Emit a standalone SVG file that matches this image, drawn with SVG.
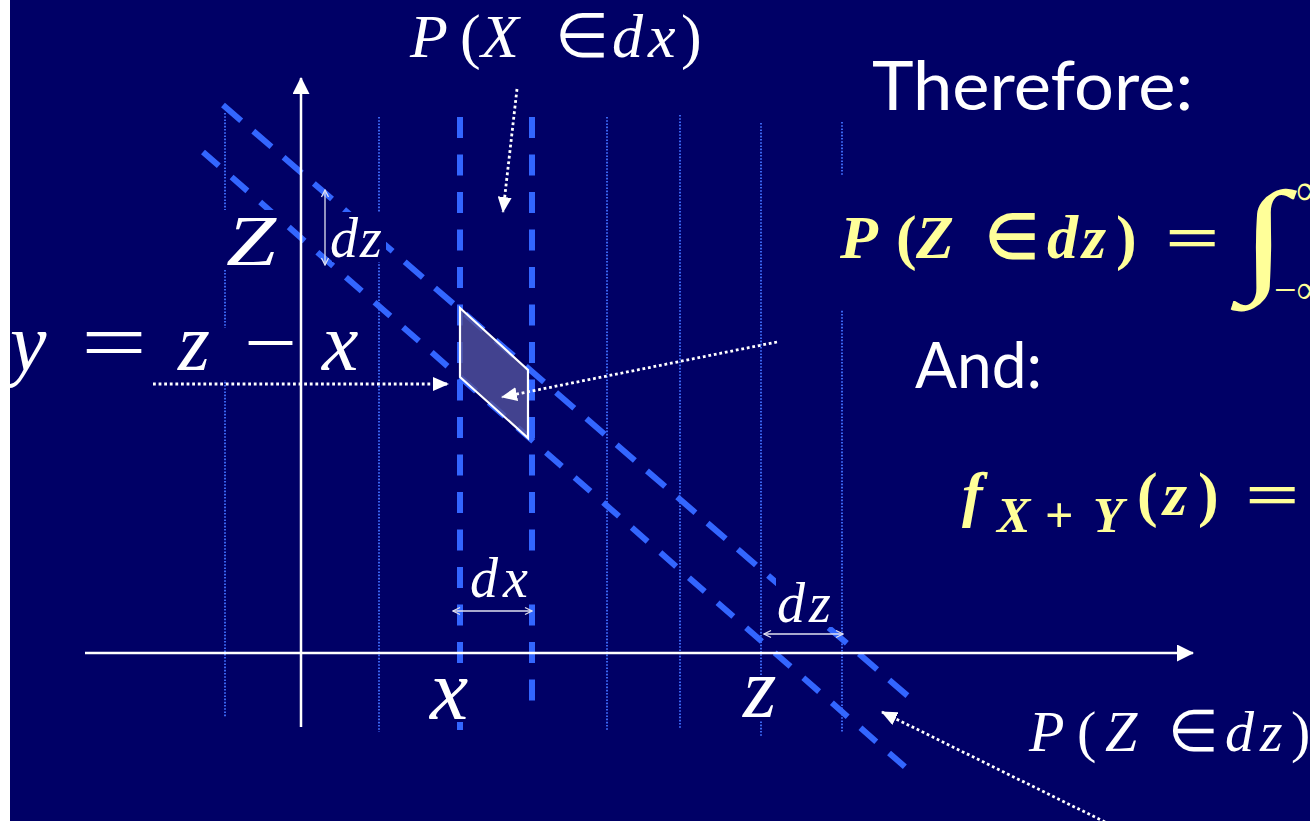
<svg xmlns="http://www.w3.org/2000/svg" width="1310" height="821" viewBox="0 0 1310 821">
<defs>
<marker id="ax" markerUnits="userSpaceOnUse" markerWidth="17" markerHeight="17" viewBox="0 0 17 17" refX="16" refY="8.5" orient="auto"><path d="M0,0 L17,8.5 L0,17 Z" fill="#fff"/></marker>
<marker id="dh" markerUnits="userSpaceOnUse" markerWidth="16" markerHeight="14" viewBox="0 0 16 14" refX="15" refY="7" orient="auto"><path d="M0,0 L16,7 L0,14 Z" fill="#fff"/></marker>
<marker id="oh" markerUnits="userSpaceOnUse" markerWidth="10" markerHeight="10" viewBox="0 0 10 10" refX="9" refY="5" orient="auto-start-reverse"><path d="M2,1.5 L9,5 L2,8.5" fill="none" stroke="#e0e0f0" stroke-width="1.3"/></marker>
</defs>
<rect width="1310" height="821" fill="#fff"/>
<rect x="10" y="0" width="1300" height="821" fill="#000066"/>
<g id="grid" stroke="#4070ff" stroke-width="1.8" stroke-dasharray="1.6 1.6" fill="none">
<line x1="225" y1="113" x2="225" y2="717"/>
<line x1="379" y1="117" x2="379" y2="732"/>
<line x1="607" y1="117" x2="607" y2="730"/>
<line x1="680" y1="115" x2="680" y2="729"/>
<line x1="761" y1="123" x2="761" y2="737"/>
<line x1="842" y1="122" x2="842" y2="732"/>
</g>
<g id="strips" stroke="#3366ff" stroke-width="6" fill="none">
<line stroke-dasharray="21 16.5" x1="460" y1="117" x2="460" y2="730"/>
<line stroke-dasharray="21 16.5" x1="532" y1="117" x2="532" y2="717"/>
<line stroke-dasharray="24 16" x1="223" y1="105" x2="909" y2="697"/>
<line stroke-dasharray="21 17" x1="203" y1="152" x2="912" y2="773"/>
</g>
<g id="region">
<polygon points="460,308 528,370 528,438 460,377" fill="#505098" fill-opacity="0.82" stroke="#fff" stroke-width="2.2" stroke-linejoin="miter"/>
</g>
<g id="labels" fill="#fff" font-family="Liberation Serif, serif">
<g id="label-pxdx"><text font-size="62" y="57"><tspan font-style="italic" x="410">P</tspan><tspan x="460">(</tspan><tspan font-style="italic" x="481">X</tspan> <tspan x="555">∈</tspan> <tspan font-style="italic" x="612">d</tspan><tspan font-style="italic" x="648">x</tspan><tspan x="681">)</tspan></text></g>
<g id="label-Z"><rect fill="#000066" x="222" y="210" width="63" height="60"/><text font-style="italic" font-size="72" x="226" y="265" textLength="50" lengthAdjust="spacingAndGlyphs">Z</text></g>
<g id="label-dz-v"><rect fill="#000066" x="332" y="212" width="54" height="50"/><text font-style="italic" font-size="56" y="257"><tspan x="330">d</tspan><tspan x="360">z</tspan></text></g>
<g id="label-line"><rect fill="#000066" x="10" y="328" width="362" height="52"/><text font-size="82" y="370"><tspan font-style="italic" x="10">y</tspan> <tspan x="81" textLength="66" lengthAdjust="spacingAndGlyphs">=</tspan> <tspan font-style="italic" x="178">z</tspan> <tspan x="244" textLength="53" lengthAdjust="spacingAndGlyphs">−</tspan> <tspan font-style="italic" x="322">x</tspan></text></g>
<g id="label-dx"><rect fill="#000066" x="470" y="556" width="66" height="46"/><text font-style="italic" font-size="56" y="597"><tspan x="470">d</tspan><tspan x="503">x</tspan></text></g>
<g id="label-dz-h"><rect fill="#000066" x="776" y="578" width="64" height="49"/><text font-style="italic" font-size="56" y="622"><tspan x="777">d</tspan><tspan x="809">z</tspan></text></g>
<g id="label-x"><rect fill="#000066" x="430" y="678" width="48" height="44"/><text font-style="italic" font-size="86" x="430" y="719">x</text></g>
<g id="label-z"><rect fill="#000066" x="743" y="675" width="44" height="45"/><text font-style="italic" font-size="86" x="743" y="717">z</text></g>
<g id="label-pzdz"><text font-size="58" y="751"><tspan font-style="italic" x="1029">P</tspan><tspan x="1077">(</tspan><tspan font-style="italic" x="1105">Z</tspan> <tspan x="1168">∈</tspan> <tspan font-style="italic" x="1225">d</tspan><tspan font-style="italic" x="1260">z</tspan><tspan x="1291">)</tspan></text></g>
<g id="label-therefore"><text font-family="Lato, sans-serif" font-size="67" x="872" y="110" textLength="321" lengthAdjust="spacingAndGlyphs">Therefore:</text></g>
<g id="label-and"><text font-family="Lato, sans-serif" font-size="63" x="915" y="388" textLength="127" lengthAdjust="spacingAndGlyphs">And:</text></g>
<g id="formula-1"><rect fill="#000066" x="838" y="175" width="472" height="135"/><text fill="#ffff99" font-weight="bold" font-size="62" y="258"><tspan font-style="italic" x="840">P</tspan><tspan x="896">(</tspan><tspan font-style="italic" x="916">Z</tspan> <tspan x="985">∈</tspan> <tspan font-style="italic" x="1047">d</tspan><tspan font-style="italic" x="1082">z</tspan><tspan x="1116">)</tspan> <tspan x="1165" textLength="55" lengthAdjust="spacingAndGlyphs">=</tspan> <tspan x="1240" y="278" font-size="125" font-weight="normal" textLength="48" lengthAdjust="spacingAndGlyphs">∫</tspan><tspan x="1296" y="205" font-size="45" font-weight="normal">∞</tspan><tspan x="1274" y="303" font-size="40" font-weight="normal">−∞</tspan></text></g>
<g id="formula-2"><text fill="#ffff99" font-weight="bold" font-size="62" y="515"><tspan font-style="italic" x="962">f</tspan><tspan font-size="50" y="532"><tspan font-style="italic" x="997">X</tspan><tspan x="1045">+</tspan><tspan font-style="italic" x="1093">Y</tspan></tspan><tspan x="1137" y="515">(</tspan><tspan font-style="italic" x="1163">z</tspan><tspan x="1198">)</tspan> <tspan x="1245" textLength="55" lengthAdjust="spacingAndGlyphs">=</tspan></text></g>
</g>
<g id="axes" stroke="#fff" stroke-width="2.5" fill="none">
<line x1="301" y1="727" x2="301" y2="78" marker-end="url(#ax)"/>
<line x1="85" y1="653" x2="1193" y2="653" marker-end="url(#ax)"/>
</g>
<g id="connectors">
<g stroke="#fff" stroke-width="2.8" stroke-dasharray="2.8 2.8" fill="none">
<line x1="517" y1="89" x2="503" y2="212" marker-end="url(#dh)"/>
<line x1="153" y1="384" x2="448" y2="384" marker-end="url(#dh)"/>
<line x1="777" y1="342" x2="502" y2="397" marker-end="url(#dh)"/>
<line x1="1105" y1="822" x2="882" y2="712" marker-end="url(#dh)"/>
</g>
<g stroke="#e0e0f0" stroke-width="1.3" fill="none">
<line x1="325" y1="190" x2="325" y2="265" marker-start="url(#oh)" marker-end="url(#oh)"/>
<line x1="453" y1="611" x2="532" y2="611" marker-start="url(#oh)" marker-end="url(#oh)"/>
<line x1="764" y1="634" x2="843" y2="634" marker-start="url(#oh)" marker-end="url(#oh)"/>
</g>
</g>
</svg>
